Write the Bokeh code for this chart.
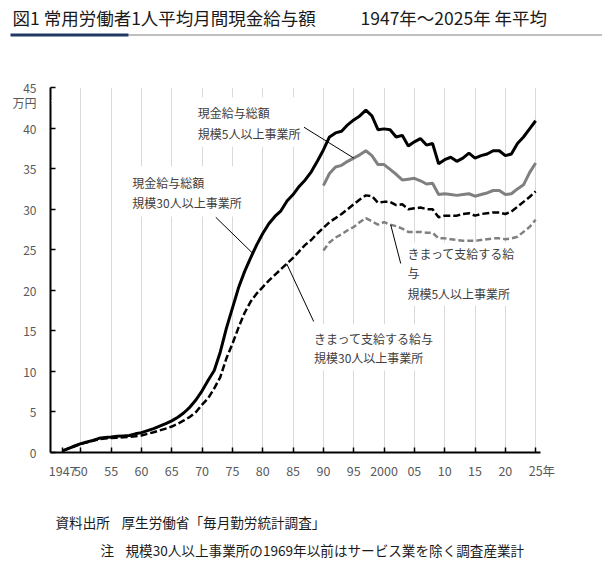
import numpy as np
from bokeh.plotting import figure
from bokeh.layouts import column, row
from bokeh.models import FixedTicker, Label, BoxAnnotation, Range1d
from bokeh.embed import file_html
from bokeh.resources import INLINE

# 常用労働者1人平均月間現金給与額（万円、年平均）
years_30 = list(range(1947, 2026))
years_5 = list(range(1990, 2026))

# 現金給与総額 規模30人以上事業所
total_30 = [
    0.2, 0.5, 0.8, 1.1, 1.3, 1.5, 1.75, 1.85, 1.9, 2.0,          # 1947-1956
    2.05, 2.1, 2.3, 2.45, 2.7, 2.95, 3.25, 3.55, 3.9, 4.35,      # 1957-1966
    4.9, 5.6, 6.5, 7.6, 8.9, 10.1, 12.4, 15.3, 17.8, 20.3,       # 1967-1976
    22.3, 24.0, 25.6, 27.0, 28.2, 29.1, 29.8, 31.0, 31.8, 32.8,  # 1977-1986
    33.6, 34.6, 35.9, 37.3, 38.9, 39.4, 39.6, 40.4, 41.0, 41.5,  # 1987-1996
    42.2, 41.5, 39.8, 39.9, 39.8, 38.9, 39.1, 37.8, 38.3, 38.7,  # 1997-2006
    37.9, 38.1, 35.6, 36.1, 36.4, 35.9, 36.3, 36.9, 36.3, 36.6,  # 2007-2016
    36.8, 37.2, 37.2, 36.6, 36.8, 38.1, 38.9, 39.9, 40.9,        # 2017-2025
]

# きまって支給する給与 規模30人以上事業所
contract_30 = [
    0.2, 0.5, 0.8, 1.05, 1.25, 1.45, 1.65, 1.72, 1.78, 1.82,     # 1947-1956
    1.87, 1.92, 2.0, 2.1, 2.3, 2.5, 2.72, 2.95, 3.2, 3.55,       # 1957-1966
    3.95, 4.4, 5.0, 5.9, 6.7, 7.9, 9.3, 11.6, 13.4, 15.4,        # 1967-1976
    17.2, 18.6, 19.6, 20.4, 21.2, 21.9, 22.6, 23.3, 24.0, 24.8,  # 1977-1986
    25.6, 26.2, 27.0, 27.7, 28.4, 28.9, 29.4, 30.0, 30.6, 31.2,  # 1987-1996
    31.7, 31.6, 30.8, 30.9, 30.9, 30.5, 30.6, 30.0, 30.1, 30.2,  # 1997-2006
    30.0, 30.0, 29.0, 29.2, 29.2, 29.2, 29.4, 29.5, 29.2, 29.4,  # 2007-2016
    29.5, 29.6, 29.6, 29.4, 29.7, 30.3, 30.9, 31.5, 32.2,        # 2017-2025
]

# 現金給与総額 規模5人以上事業所
total_5 = [
    32.9, 34.4, 35.2, 35.4, 35.9, 36.3, 36.7, 37.2, 36.6, 35.5,  # 1990-1999
    35.5, 34.9, 34.3, 33.6, 33.7, 33.8, 33.5, 33.1, 33.2, 31.8,  # 2000-2009
    31.9, 31.8, 31.7, 31.8, 31.9, 31.6, 31.8, 32.0, 32.3, 32.3,  # 2010-2019
    31.8, 31.9, 32.5, 33.0, 34.5, 35.7,                          # 2020-2025
]

# きまって支給する給与 規模5人以上事業所
contract_5 = [
    24.9, 25.9, 26.5, 26.9, 27.4, 27.8, 28.4, 28.9, 28.5, 28.1,  # 1990-1999
    28.4, 28.1, 27.9, 27.6, 27.2, 27.2, 27.2, 27.1, 27.1, 26.4,  # 2000-2009
    26.4, 26.3, 26.2, 26.1, 26.1, 26.1, 26.2, 26.3, 26.4, 26.4,  # 2010-2019
    26.3, 26.4, 26.6, 27.2, 27.8, 28.7,                          # 2020-2025
]

x_ticks = [1947] + list(range(1950, 2026, 5))
# the ideographic space in front of the last label keeps "25" centred on its tick
x_tick_labels = ["1947", "50", "55", "60", "65", "70", "75", "80", "85",
                 "90", "95", "2000", "05", "10", "15", "20", "\u300025年"]
grid_years = list(range(1950, 2026, 5))
# the unit sits on the value axis, just under "45"
unit_tick = 43.2
y_ticks = list(range(0, 46, 5)) + [unit_tick]
y_tick_labels = {unit_tick: "万円"}

FONT = "Noto Sans CJK JP"
TICK_COLOR = "#595959"
NOTE_COLOR = "#404040"
TEXT_COLOR = "#1a1a1a"

W = 602


def text_strip(height):
    f = figure(width=W, height=height, x_range=Range1d(0, W), y_range=Range1d(height, 0),
               x_axis_type=None, y_axis_type=None, output_backend="svg",
               toolbar_location=None, min_border=0)
    f.outline_line_color = None
    f.grid.grid_line_color = None
    return f


# ---- heading strip -------------------------------------------------------
head_h = 45
head = text_strip(head_h)
head.add_layout(Label(x=12, y=17, text="図1 常用労働者1人平均月間現金給与額",
                      text_font=FONT, text_font_size="17.5px", text_color=TEXT_COLOR,
                      text_align="left", text_baseline="middle"))
head.add_layout(Label(x=360, y=17, text="1947年～2025年 年平均",
                      text_font=FONT, text_font_size="17.5px", text_color=TEXT_COLOR,
                      text_align="left", text_baseline="middle"))
head.quad(left=[128], right=[W], top=[33.5], bottom=[35.5], fill_color="#bfbfbf", line_color=None)
head.quad(left=[10], right=[128], top=[33], bottom=[36], fill_color="#1f3864", line_color=None)

# ---- chart ---------------------------------------------------------------
p = figure(width=W, height=455,
           x_range=Range1d(1945, 2025.8), y_range=Range1d(0, 45),
           output_backend="svg", toolbar_location=None,
           min_border_left=50, min_border_right=62,
           min_border_top=42, min_border_bottom=48)
p.outline_line_color = None

p.xaxis.ticker = FixedTicker(ticks=x_ticks)
p.xaxis.major_label_overrides = dict(zip(x_ticks, x_tick_labels))
p.yaxis.ticker = FixedTicker(ticks=y_ticks)
p.yaxis.major_label_overrides = y_tick_labels
for ax in (p.xaxis, p.yaxis):
    ax.axis_line_color = "black"
    ax.axis_line_width = 2
    ax.major_tick_in = 5
    ax.major_tick_out = 0
    ax.major_tick_line_color = "black"
    ax.major_tick_line_width = 1.5
    ax.minor_tick_line_color = None
    ax.major_label_text_font = FONT
    ax.major_label_text_color = TICK_COLOR
p.xaxis.major_label_text_font_size = "12.5px"
p.yaxis.major_label_text_font_size = "12px"
p.xaxis.major_label_standoff = 8
p.yaxis.major_label_standoff = 14

p.xgrid.ticker = FixedTicker(ticks=grid_years)
p.xgrid.grid_line_color = "#d9d9d9"
p.xgrid.grid_line_width = 1
p.ygrid.grid_line_color = None

# the unit entry carries no tick mark
p.add_layout(BoxAnnotation(left=1945.18, right=1946.1, top=43.45, bottom=42.95,
                           fill_color="white", fill_alpha=1.0, line_color=None))

# series
p.line(years_30, total_30, line_color="black", line_width=3)
p.line(years_5, total_5, line_color="#808080", line_width=3)
p.line(years_30, contract_30, line_color="black", line_width=2.5, line_dash="7 3")
p.line(years_5, contract_5, line_color="#808080", line_width=2.5, line_dash="6 3")

# leader lines: label side (x, y) -> point on the series
def on(years, vals, yr):
    return float(np.interp(yr, years, vals))

leaders = [
    ((1986.8, 40.1), (1995.0, on(years_5, total_5, 1995.0))),
    ((1972.25, 29.0), (1978.35, on(years_30, total_30, 1978.35))),
    ((1988.4, 16.15), (1983.95, on(years_30, contract_30, 1983.95))),
    ((2002.75, 23.3), (2001.1, on(years_5, contract_5, 2001.1))),
]
p.segment(x0=[a[0] for a, b in leaders], y0=[a[1] for a, b in leaders],
          x1=[b[0] for a, b in leaders], y1=[b[1] for a, b in leaders],
          line_color="black", line_width=1)

# white boxes behind the series labels
for left, right, top, bottom in [
    (1968.1, 1986.6, 43.8, 37.7),
    (1957.4, 1978.0, 35.3, 29.1),
    (2003.1, 2022.9, 25.9, 18.1),
    (1987.1, 2009.3, 15.8, 10.1),
]:
    p.add_layout(BoxAnnotation(left=left, right=right, top=top, bottom=bottom,
                               fill_color="white", fill_alpha=1.0,
                               line_color=None, level="annotation"))

series_labels = [
    (1969.3, 41.95, "現金給与総額"),
    (1969.3, 39.29, "規模5人以上事業所"),
    (1958.5, 33.3, "現金給与総額"),
    (1958.5, 30.86, "規模30人以上事業所"),
    (2003.85, 24.5, "きまって支給する給"),
    (2003.85, 22.23, "与"),
    (2003.85, 19.57, "規模5人以上事業所"),
    (1988.45, 14.0, "きまって支給する給与"),
    (1988.45, 11.75, "規模30人以上事業所"),
]
for x, y, t in series_labels:
    p.add_layout(Label(x=x, y=y, text=t, text_font=FONT, text_font_size="12px",
                       text_color=NOTE_COLOR, text_align="left",
                       text_baseline="middle"))

# ---- source and note -----------------------------------------------------
foot_h = 63
foot = text_strip(foot_h)
for x, y, t in [
    (55, 21, "資料出所"),
    (121, 21, "厚生労働省「毎月勤労統計調査」"),
    (100, 49, "注"),
    (125, 49, "規模30人以上事業所の1969年以前はサービス業を除く調査産業計"),
]:
    foot.add_layout(Label(x=x, y=y, text=t, text_font=FONT, text_font_size="13.6px",
                          text_color=TEXT_COLOR, text_align="left",
                          text_baseline="middle"))

layout = column(row(head), p, row(foot), spacing=0)
open("out.html", "w").write(file_html(layout, INLINE))
